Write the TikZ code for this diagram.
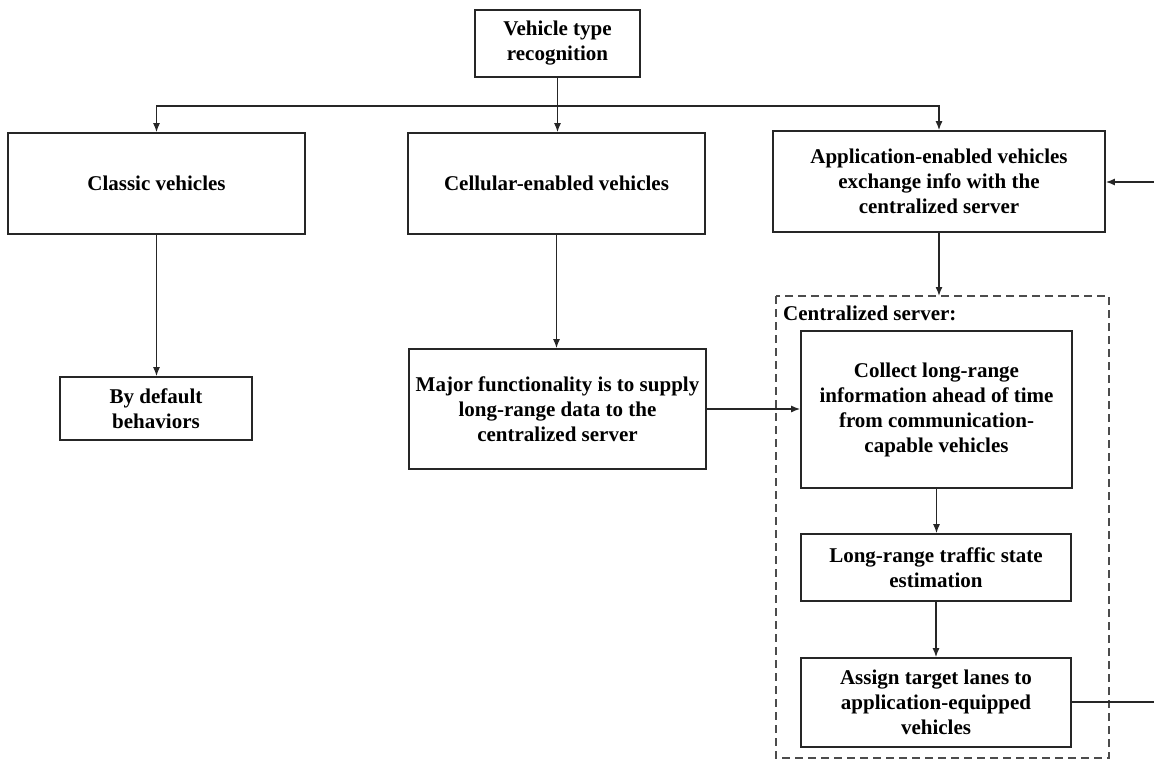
\documentclass[tikz,border=0pt]{standalone}
\usepackage{fontspec}
\setmainfont{Liberation Serif}
\usetikzlibrary{arrows.meta}
\begin{document}
\begin{tikzpicture}[x=1pt,y=-1pt,
  box/.style={draw=black!85, line width=1.6pt, fill=white, align=center,
    inner sep=0pt, font=\fontsize{21}{25}\selectfont\bfseries},
  link/.style={draw=black!85, line width=1.5pt},
  arr/.style={link, -{Latex[length=9pt,width=7pt]}},
  group/.style={draw=black!70, line width=1.6pt, dash pattern=on 8pt off 5pt}]
\useasboundingbox (0,0) rectangle (1154,764);

% centralized server frame
\draw[group] (776,296) rectangle (1109,758);
\coordinate (srvtop) at (939,296);
\node[anchor=west, inner sep=0pt, font=\fontsize{21}{25}\selectfont\bfseries] (srvlabel) at (783,313) {Centralized server:};

% boxes
\node[box, minimum width=165pt, minimum height=67pt] (top) at (557.5,43.5) {Vehicle type\\recognition};
\node[box, minimum width=297pt, minimum height=101pt] (classic) at (156.5,183.5) {Classic vehicles};
\node[box, minimum width=297pt, minimum height=101pt] (cell) at (556.5,183.5) {Cellular-enabled vehicles};
\node[box, minimum width=332pt, minimum height=101pt] (app) at (939,181.5) {Application-enabled vehicles\\exchange info with the\\centralized server};
\node[box, minimum width=192pt, minimum height=63pt] (default) at (156,408.5) {By default\\behaviors};
\node[box, minimum width=297pt, minimum height=120pt] (major) at (557.5,409) {Major functionality is to supply\\long-range data to the\\centralized server};
\node[box, minimum width=271pt, minimum height=157pt] (collect) at (936.5,409.5) {Collect long-range\\information ahead of time\\from communication-\\capable vehicles};
\node[box, minimum width=270pt, minimum height=67pt] (estim) at (936,567.5) {Long-range traffic state\\estimation};
\node[box, minimum width=270pt, minimum height=89pt] (assign) at (936,702.5) {Assign target lanes to\\application-equipped\\vehicles};

% distribution from the recognition step
\coordinate (split) at (557.5,106);
\draw[link] (top.south) -- (split);
\draw[arr] (split) -- (cell.north -| split);
\draw[arr] (split) -| (classic.north);
\draw[arr] (split) -| (app.north);

% vertical flows
\draw[arr] (classic.south) -- (default.north -| classic.south);
\draw[arr] (cell.south) -- (major.north -| cell.south);
\draw[arr] (app.south) -- (srvtop);
\draw[arr] (major.east) -- (collect.west |- major.east);
\draw[arr] (collect.south) -- (estim.north -| collect.south);
\draw[arr] (estim.south) -- (assign.north -| estim.south);

% feedback loop leaving the frame
\coordinate (loopout) at (1154,702);
\coordinate (loopin) at (1154,182);
\draw[link] (assign.east |- loopout) -- (loopout);
\draw[arr] (loopin) -- (app.east |- loopin);
\end{tikzpicture}
\end{document}
